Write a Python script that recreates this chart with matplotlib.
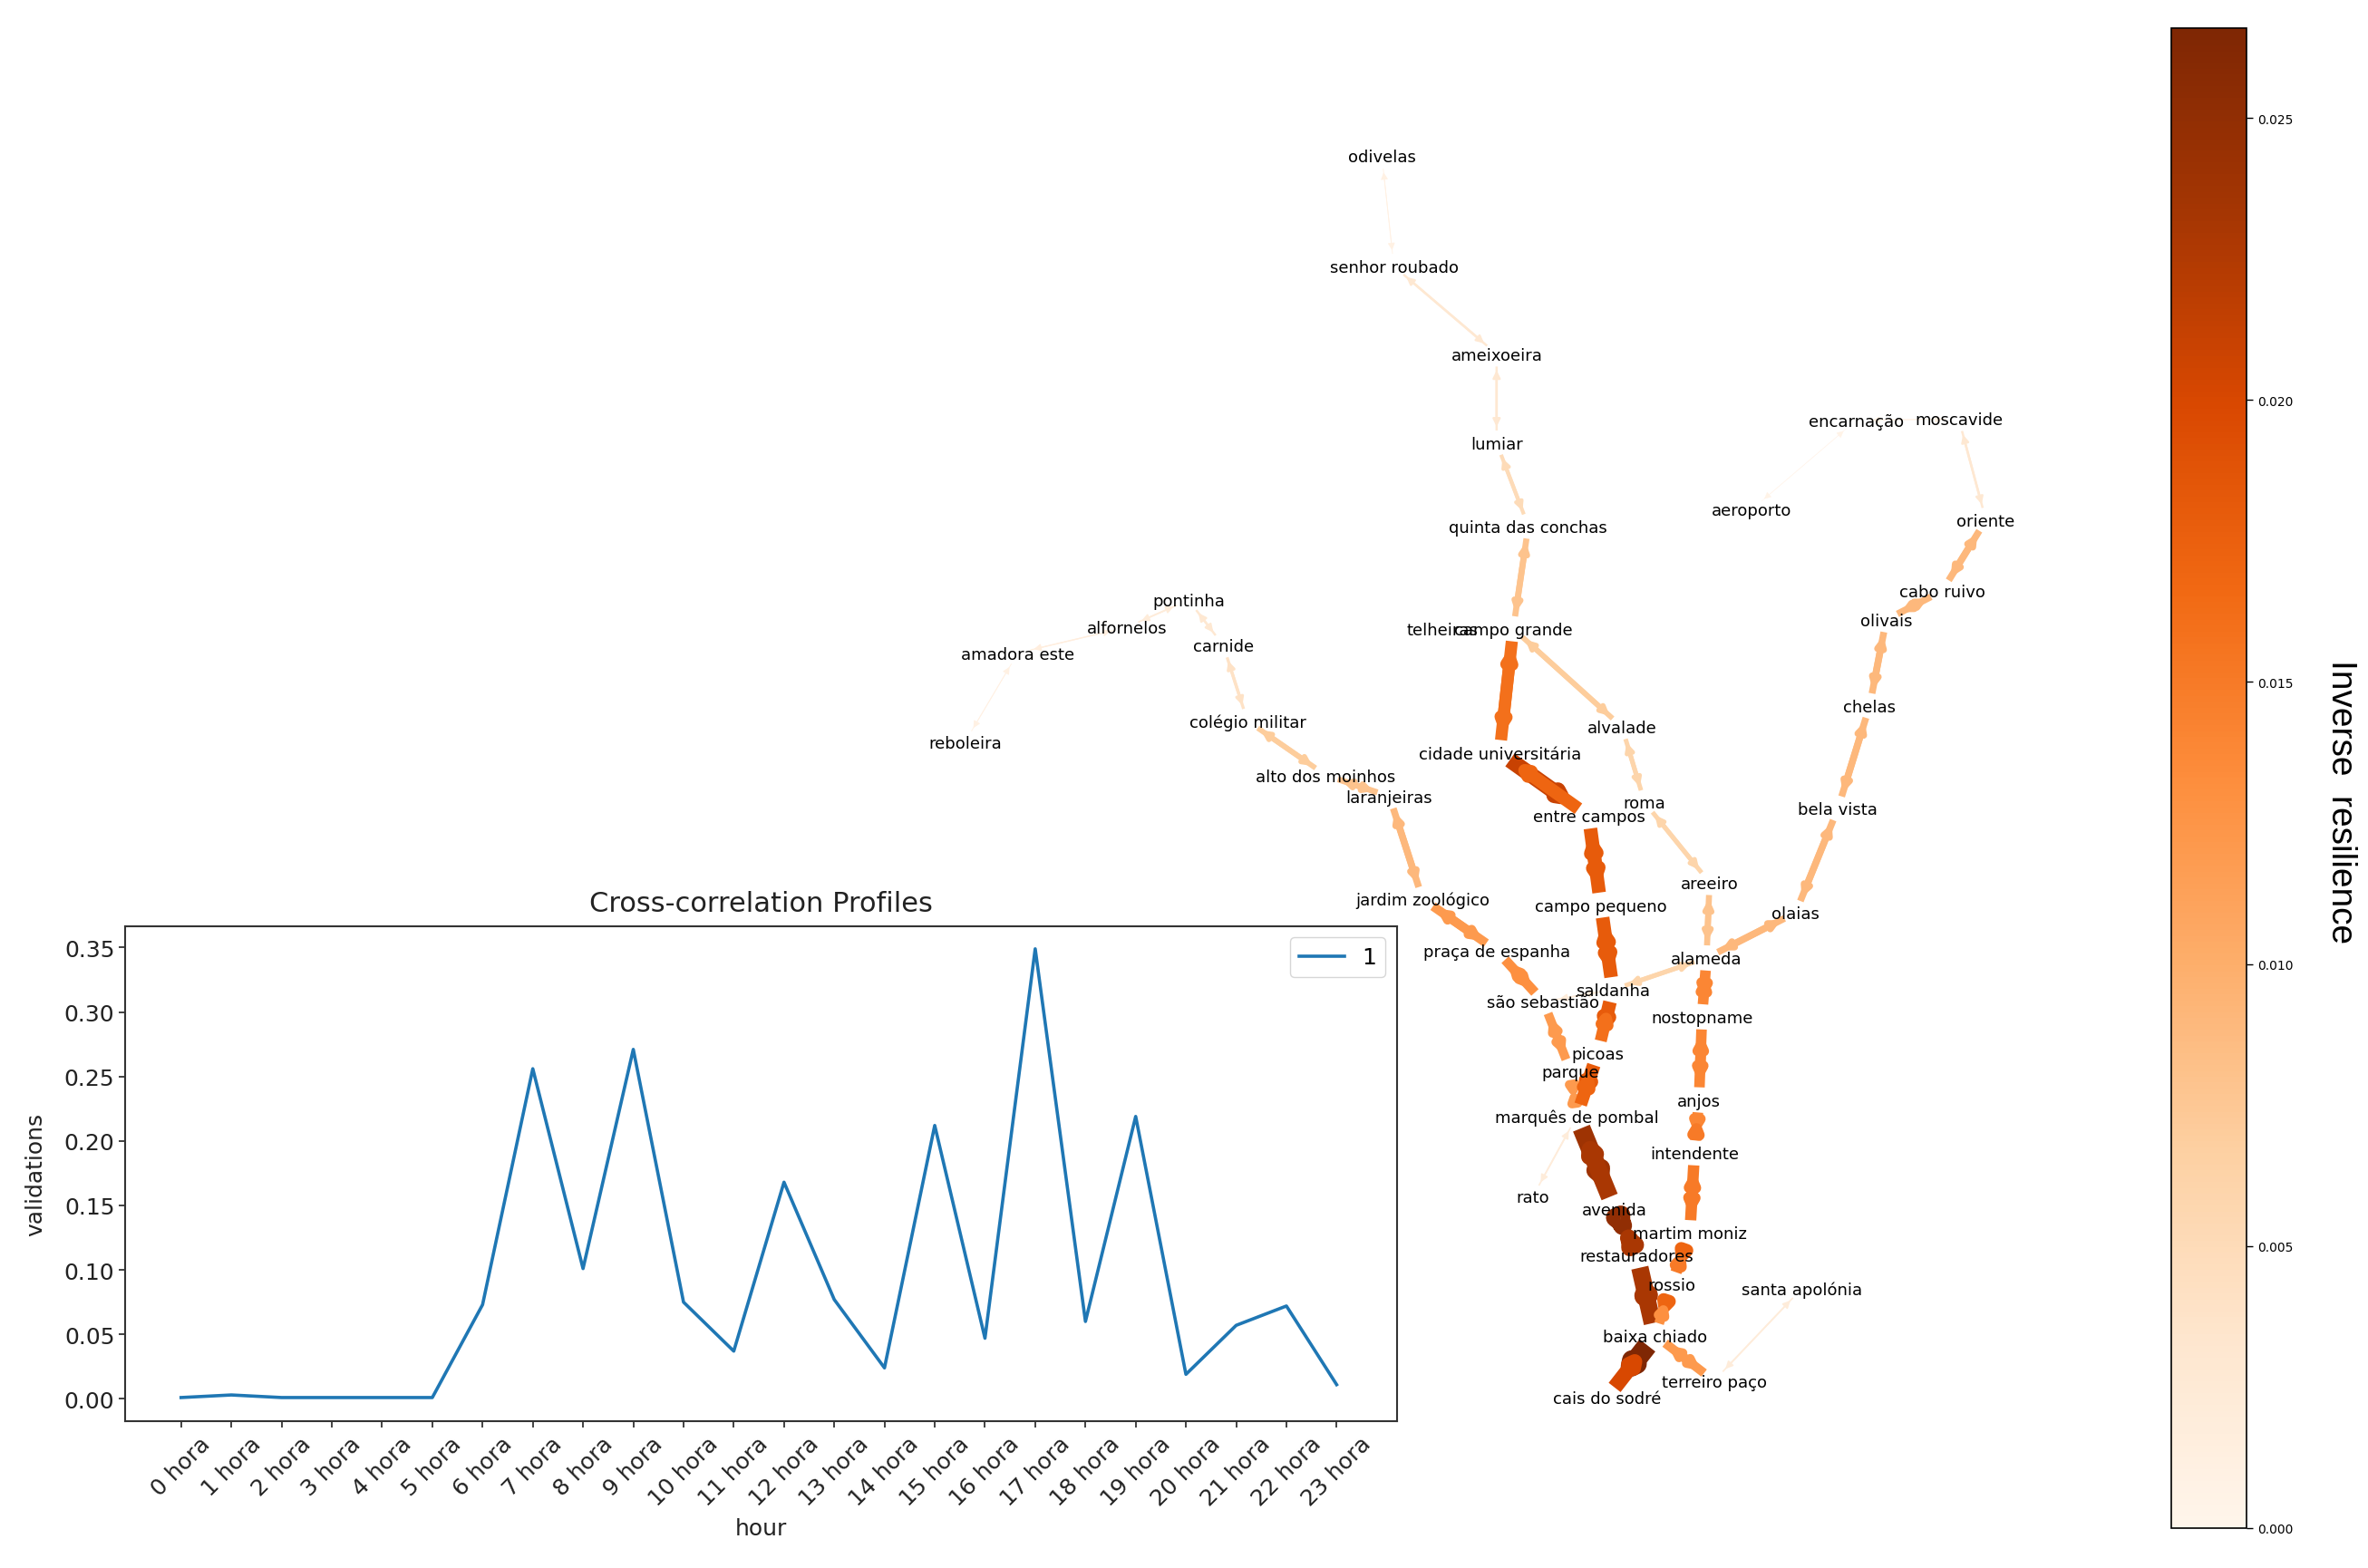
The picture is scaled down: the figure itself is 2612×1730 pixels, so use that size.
import matplotlib
matplotlib.use('Agg')
import matplotlib.pyplot as plt
from matplotlib.patches import FancyArrowPatch
from matplotlib.colors import Normalize
from matplotlib.cm import ScalarMappable

# station layout
stations = ['odivelas', 'senhor roubado', 'ameixoeira', 'lumiar', 'quinta das conchas', 'campo grande',
            'telheiras', 'cidade universitária', 'entre campos', 'campo pequeno', 'saldanha', 'picoas',
            'parque', 'marquês de pombal', 'rato', 'avenida', 'restauradores', 'baixa chiado',
            'cais do sodré', 'terreiro paço', 'santa apolónia', 'rossio', 'martim moniz', 'intendente',
            'anjos', 'nostopname', 'alameda', 'areeiro', 'roma', 'alvalade', 'olaias', 'bela vista',
            'chelas', 'olivais', 'cabo ruivo', 'oriente', 'moscavide', 'encarnação', 'aeroporto',
            'pontinha', 'alfornelos', 'amadora este', 'reboleira', 'carnide', 'colégio militar',
            'alto dos moinhos', 'laranjeiras', 'jardim zoológico', 'praça de espanha', 'são sebastião']
station_x = [915, 923, 991, 991, 1012, 1002, 955, 993, 1052, 1060, 1068, 1058, 1040, 1044, 1015, 1069, 1084,
             1096, 1064, 1135, 1193, 1107, 1119, 1122, 1125, 1127, 1130, 1132, 1089, 1074, 1189, 1217, 1238,
             1249, 1286, 1315, 1297, 1229, 1160, 787, 746, 674, 639, 810, 826, 878, 920, 942, 991, 1022]
station_y = [104, 177, 235, 294, 349, 417, 417, 499, 541, 600, 656, 698, 710, 740, 793, 801, 832, 885, 926,
             915, 854, 851, 817, 764, 729, 674, 635, 585, 532, 482, 605, 536, 468, 411, 392, 345, 278, 279,
             338, 398, 416, 433, 492, 428, 478, 514, 528, 596, 630, 664]

# links: from, to, resilience each way
links = [
    ('reboleira', 'amadora este', 0.001, 0.001),
    ('amadora este', 'alfornelos', 0.0015, 0.0015),
    ('alfornelos', 'pontinha', 0.002, 0.002),
    ('pontinha', 'carnide', 0.003, 0.003),
    ('carnide', 'colégio militar', 0.004, 0.004),
    ('colégio militar', 'alto dos moinhos', 0.007, 0.007),
    ('alto dos moinhos', 'laranjeiras', 0.008, 0.008),
    ('laranjeiras', 'jardim zoológico', 0.009, 0.009),
    ('jardim zoológico', 'praça de espanha', 0.012, 0.012),
    ('praça de espanha', 'são sebastião', 0.013, 0.013),
    ('são sebastião', 'parque', 0.012, 0.012),
    ('parque', 'marquês de pombal', 0.012, 0.012),
    ('são sebastião', 'saldanha', 0.002, 0.002),
    ('saldanha', 'alameda', 0.006, 0.006),
    ('odivelas', 'senhor roubado', 0.001, 0.001),
    ('senhor roubado', 'ameixoeira', 0.003, 0.003),
    ('ameixoeira', 'lumiar', 0.003, 0.003),
    ('lumiar', 'quinta das conchas', 0.005, 0.005),
    ('quinta das conchas', 'campo grande', 0.008, 0.008),
    ('campo grande', 'cidade universitária', 0.016, 0.016),
    ('cidade universitária', 'entre campos', 0.021, 0.017),
    ('entre campos', 'campo pequeno', 0.018, 0.018),
    ('campo pequeno', 'saldanha', 0.018, 0.018),
    ('saldanha', 'picoas', 0.018, 0.016),
    ('picoas', 'marquês de pombal', 0.018, 0.017),
    ('marquês de pombal', 'avenida', 0.024, 0.023),
    ('avenida', 'restauradores', 0.025, 0.023),
    ('restauradores', 'baixa chiado', 0.023, 0.023),
    ('baixa chiado', 'cais do sodré', 0.0265, 0.020),
    ('campo grande', 'alvalade', 0.007, 0.007),
    ('alvalade', 'roma', 0.006, 0.006),
    ('roma', 'areeiro', 0.006, 0.006),
    ('areeiro', 'alameda', 0.008, 0.008),
    ('alameda', 'olaias', 0.009, 0.009),
    ('olaias', 'bela vista', 0.009, 0.009),
    ('bela vista', 'chelas', 0.009, 0.009),
    ('chelas', 'olivais', 0.009, 0.009),
    ('olivais', 'cabo ruivo', 0.009, 0.009),
    ('cabo ruivo', 'oriente', 0.009, 0.009),
    ('oriente', 'moscavide', 0.003, 0.003),
    ('moscavide', 'encarnação', 0.001, 0.001),
    ('encarnação', 'aeroporto', 0.0005, 0.0005),
    ('alameda', 'nostopname', 0.014, 0.014),
    ('nostopname', 'anjos', 0.014, 0.014),
    ('anjos', 'intendente', 0.014, 0.015),
    ('intendente', 'martim moniz', 0.015, 0.015),
    ('martim moniz', 'rossio', 0.017, 0.015),
    ('rossio', 'baixa chiado', 0.017, 0.013),
    ('baixa chiado', 'terreiro paço', 0.012, 0.012),
    ('terreiro paço', 'santa apolónia', 0.002, 0.002),
    ('marquês de pombal', 'rato', 0.002, 0.002),
]

# hourly profile
hours = [f'{h} hora' for h in range(24)]
validations = [0.001, 0.003, 0.001, 0.001, 0.001, 0.001, 0.073, 0.256, 0.101, 0.271, 0.075, 0.037,
               0.168, 0.077, 0.024, 0.212, 0.047, 0.349, 0.060, 0.219, 0.019, 0.057, 0.072, 0.011]

W, H = 1568, 1039  # layout units used for the station positions
fig = plt.figure(figsize=(26.12, 17.31), dpi=100)

cmap = plt.cm.Oranges
norm = Normalize(vmin=0, vmax=0.0266)

# network takes the whole figure
ax = fig.add_axes([0, 0, 1, 1])
ax.set_xlim(0, W)
ax.set_ylim(H, 0)
ax.axis('off')

pos = dict(zip(stations, zip(station_x, station_y)))
for a, b, w_ab, w_ba in links:
    for p, q, w in ((a, b, w_ab), (b, a, w_ba)):
        arrow = FancyArrowPatch(pos[p], pos[q], arrowstyle='-|>', mutation_scale=12,
                                shrinkA=10, shrinkB=13, linewidth=w * 600,
                                color=cmap(norm(w)), joinstyle='round', capstyle='butt')
        ax.add_patch(arrow)

for name in stations:
    ax.text(pos[name][0], pos[name][1] + 0.7, name, fontsize=13, ha='center', va='center', color='black')

# hourly line chart, lower left
ax2 = fig.add_axes([83 / W, 1 - 942 / H, (925 - 83) / W, (942 - 614) / H])
ax2.plot(range(24), validations, color='tab:blue', linewidth=2.6, label='1')
ax2.set_xlim(-1.11, 24.2)
ax2.set_ylim(-0.0176, 0.3665)
ax2.set_xticks(range(24))
ax2.set_xticklabels(hours, rotation=45)
ax2.set_yticks([0, 0.05, 0.1, 0.15, 0.2, 0.25, 0.3, 0.35])
ax2.tick_params(labelsize=18, width=1.2, length=5, colors='#222222')
ax2.set_xlabel('hour', fontsize=18, color='#222222', labelpad=6)
ax2.set_ylabel('validations', fontsize=18, color='#222222', labelpad=14)
ax2.set_title('Cross-correlation Profiles', fontsize=22, color='#222222', pad=12)
ax2.legend(loc='upper right', fontsize=18)
for s in ax2.spines.values():
    s.set_linewidth(1.5)
    s.set_color('#333333')

# colorbar on the right
cax = fig.add_axes([1438 / W, 1 - 1012.5 / H, (1487.5 - 1438) / W, (1012.5 - 19) / H])
cb = fig.colorbar(ScalarMappable(norm=norm, cmap=cmap), cax=cax)
cb.set_ticks([0, 0.005, 0.01, 0.015, 0.02, 0.025])
cb.ax.tick_params(labelsize=10, width=1, length=5)
cb.outline.set_linewidth(1.2)
fig.text(1550 / W, 1 - 531 / H, 'Inverse  resilience', rotation=270, fontsize=28,
         family='Liberation Sans', ha='center', va='center')

fig.savefig('out.png', dpi=100)
